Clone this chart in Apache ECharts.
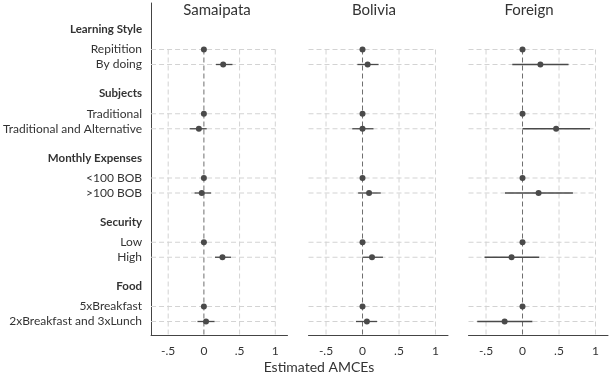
<!DOCTYPE html>
<html>
<head>
<meta charset="utf-8">
<script src="https://cdn.jsdelivr.net/npm/echarts@6/dist/echarts.min.js"></script>
<style>
html, body { margin: 0; padding: 0; background: #fff; }
#chart { width: 610px; height: 378px; }
</style>
</head>
<body>
<div id="chart"></div>
<script>
// attribute groups and their levels (first level of each is the reference)
var groups = ['Learning Style', 'Subjects', 'Monthly Expenses', 'Security', 'Food'];
var levels = [
    ['Repitition', 'By doing'],
    ['Traditional', 'Traditional and Alternative'],
    ['<100 BOB', '>100 BOB'],
    ['Low', 'High'],
    ['5xBreakfast', '2xBreakfast and 3xLunch']
];
var panels = ['Samaipata', 'Bolivia', 'Foreign'];

// estimates + 95% CI, one entry per level (null = reference, no bar)
var samaipataEst = [0, 0.27, 0, -0.07, 0, -0.03, 0, 0.26, 0, 0.03];
var samaipataLo = [null, 0.17, null, -0.20, null, -0.13, null, 0.155, null, -0.09];
var samaipataHi = [null, 0.40, null, 0.04, null, 0.10, null, 0.38, null, 0.15];

var boliviaEst = [0, 0.07, 0, 0.0, 0, 0.09, 0, 0.13, 0, 0.06];
var boliviaLo = [null, -0.07, null, -0.14, null, -0.06, null, 0.0, null, -0.09];
var boliviaHi = [null, 0.22, null, 0.15, null, 0.25, null, 0.28, null, 0.20];

var foreignEst = [0, 0.245, 0, 0.46, 0, 0.22, 0, -0.15, 0, -0.245];
var foreignLo = [null, -0.14, null, 0.0, null, -0.24, null, -0.52, null, -0.62];
var foreignHi = [null, 0.63, null, 0.925, null, 0.69, null, 0.23, null, 0.135];

var xTicks = [-0.5, 0, 0.5, 1];
var xTickLabels = ['-.5', '0', '.5', '1'];

var est = [samaipataEst, boliviaEst, foreignEst];
var lo = [samaipataLo, boliviaLo, foreignLo];
var hi = [samaipataHi, boliviaHi, foreignHi];

// row layout (in px-ish units of the y value axis)
var HEADER_GAP = 20, ITEM_STEP = 15, GROUP_GAP = 29.25;
var rows = [];
var pos = 0;
groups.forEach(function (g, gi) {
    if (gi > 0) pos += GROUP_GAP;
    rows.push({ label: g, header: true, pos: pos });
    levels[gi].forEach(function (l, li) {
        pos += li === 0 ? HEADER_GAP : ITEM_STEP;
        rows.push({ label: l, header: false, pos: pos });
    });
});
var itemPos = rows.filter(function (r) { return !r.header; }).map(function (r) { return r.pos; });

var Y_MIN = -26.5, Y_MAX = 305.5;
var X_MIN = -0.74, X_MAX = 1.171;
var gridLeft = [148, 308.5, 468.5];
var FONT = 'Lato';
var GRID_C = '#d3d3d3', ZERO_C = '#6e6e6e', INK = '#4a4a4a';

var myChart = echarts.init(document.getElementById('chart'));

var grid = [], xAxis = [], yAxis = [], series = [];
panels.forEach(function (p, i) {
    grid.push({ left: gridLeft[i], width: 139.5, top: 3, bottom: 43 });
    xAxis.push({
        type: 'value', gridIndex: i, min: X_MIN, max: X_MAX,
        splitLine: { show: false },
        axisTick: { show: false },
        axisLine: { show: true, onZero: false, lineStyle: { color: '#444', width: 1 } },
        axisLabel: {
            customValues: xTicks,
            margin: 10,
            color: '#333', fontSize: 12, fontFamily: FONT,
            formatter: function (v) {
                var k = xTicks.indexOf(v);
                return k >= 0 ? xTickLabels[k] : '';
            }
        }
    });
    yAxis.push({
        type: 'value', gridIndex: i, inverse: true, min: Y_MIN, max: Y_MAX,
        splitLine: { show: false },
        axisTick: { show: false },
        axisLine: { show: i === 0, onZero: false, lineStyle: { color: '#444', width: 1 } },
        axisLabel: {
            show: i === 0,
            customValues: rows.map(function (r) { return r.pos; }),
            margin: 9,
            color: '#333', fontSize: 12, fontFamily: FONT,
            formatter: function (v) {
                for (var k = 0; k < rows.length; k++) {
                    if (Math.abs(rows[k].pos - v) < 1e-6) {
                        return rows[k].header ? '{h|' + rows[k].label + '}' : rows[k].label;
                    }
                }
                return '';
            },
            rich: { h: { fontWeight: 'bold', fontSize: 11.5, color: '#333', fontFamily: FONT } }
        }
    });

    // horizontal dashed gridlines at each level row
    series.push({
        type: 'custom', xAxisIndex: i, yAxisIndex: i, z: 1, silent: true,
        data: itemPos.map(function (y) { return [xTicks[xTicks.length - 1], y]; }),
        renderItem: function (params, api) {
            var a = api.coord([X_MIN, api.value(1)]);
            var b = api.coord([api.value(0), api.value(1)]);
            return { type: 'line', shape: { x1: a[0], y1: a[1], x2: b[0], y2: b[1] },
                style: { stroke: GRID_C, lineWidth: 1, lineDash: [5, 3] } };
        }
    });
    // vertical dashed gridlines at ticks, from first level row down
    series.push({
        type: 'custom', xAxisIndex: i, yAxisIndex: i, z: 1, silent: true,
        data: xTicks.map(function (v) { return [v, itemPos[0]]; }),
        renderItem: function (params, api) {
            var v = api.value(0);
            var a = api.coord([v, api.value(1)]);
            var b = api.coord([v, Y_MAX]);
            return { type: 'line', shape: { x1: a[0], y1: a[1], x2: b[0], y2: b[1] },
                style: { stroke: v === 0 ? ZERO_C : GRID_C, lineWidth: 1, lineDash: [5, 3] } };
        }
    });
    // confidence intervals
    var ci = [];
    itemPos.forEach(function (y, k) {
        if (lo[i][k] !== null) ci.push([lo[i][k], hi[i][k], y]);
    });
    series.push({
        type: 'custom', xAxisIndex: i, yAxisIndex: i, z: 3, silent: true,
        data: ci,
        encode: { x: [0, 1], y: 2 },
        renderItem: function (params, api) {
            var a = api.coord([api.value(0), api.value(2)]);
            var b = api.coord([api.value(1), api.value(2)]);
            return { type: 'line', shape: { x1: a[0], y1: a[1], x2: b[0], y2: b[1] },
                style: { stroke: INK, lineWidth: 1.3 } };
        }
    });
    // point estimates
    series.push({
        type: 'scatter', xAxisIndex: i, yAxisIndex: i, z: 4, silent: true,
        symbolSize: 6,
        itemStyle: { color: INK, opacity: 1 },
        data: itemPos.map(function (y, k) { return [est[i][k], y]; })
    });
});

var titleX = [217, 374, 529];
var graphic = panels.map(function (p, i) {
    return { type: 'text', x: titleX[i], y: 3,
        style: { text: p, fill: '#333', font: '15px ' + FONT, textAlign: 'center' } };
});
graphic.push({ type: 'text', x: 319, y: 360,
    style: { text: 'Estimated AMCEs', fill: '#333', font: '14px ' + FONT, textAlign: 'center' } });

myChart.setOption({
    animation: false,
    backgroundColor: '#fff',
    grid: grid,
    xAxis: xAxis,
    yAxis: yAxis,
    series: series,
    graphic: graphic
});
</script>
</body>
</html>
